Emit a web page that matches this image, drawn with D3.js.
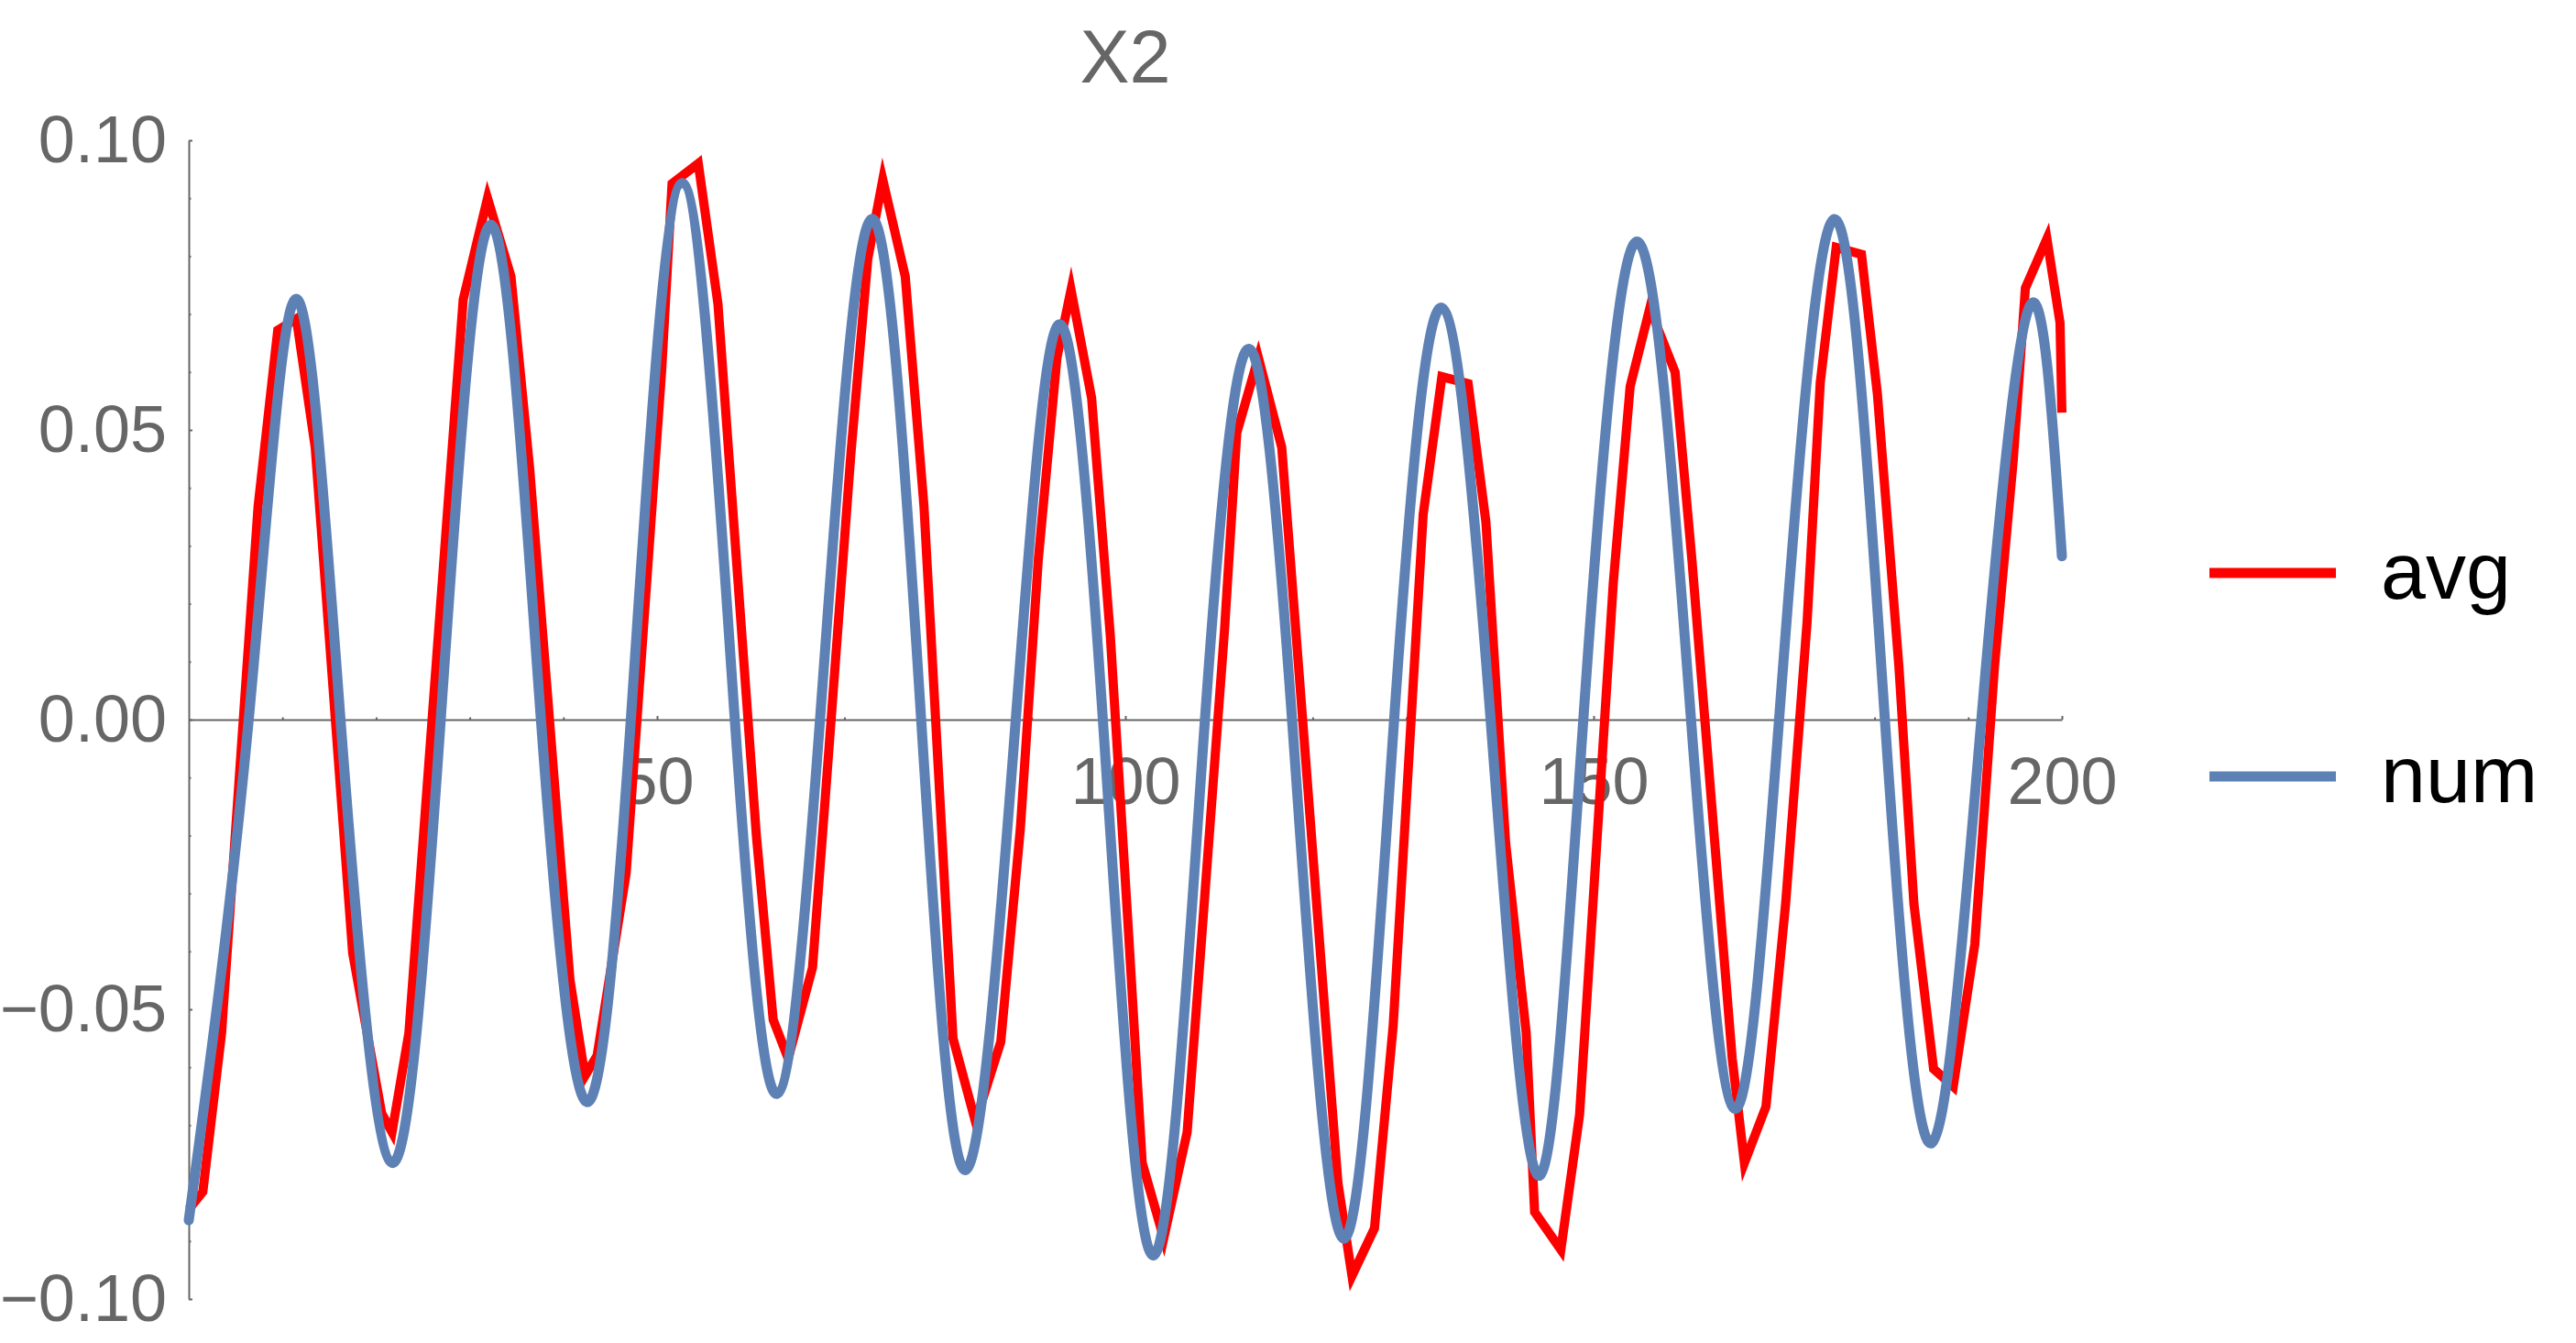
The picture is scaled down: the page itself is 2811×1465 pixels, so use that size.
<!DOCTYPE html>
<head>
  <meta charset="utf-8">
  <script src="https://d3js.org/d3.v7.min.js"></script>
  <style>
    body { margin:0;position:fixed;top:0;right:0;bottom:0;left:0;background:#fff; }
    text { font-family: "Liberation Sans", Arial, sans-serif; }
  </style>
</head>

<body>
  <script>
    // avg : sampled points (red polyline)
    var avgX = [0, 1.5, 3.5, 7.4, 9.5, 11.5, 13.5, 17.5, 20.6, 21.7, 23.5, 29.3, 31.9, 34.4, 36.4, 40.7, 42.3, 43.6, 46.7, 50.5,
                51.6, 54.4, 56.5, 60.6, 62.4, 64.0, 66.6, 68.4, 70.7, 72.5, 74.1, 76.5, 78.5, 81.6, 84.0, 86.7, 88.8, 90.7, 92.7, 94.2,
                96.4, 98.4, 100.4, 101.8, 104.1, 106.6, 108.3, 110.6, 111.9, 114.2, 116.7, 118.5, 122.7, 124.2, 126.6, 128.6, 131.8, 133.8, 136.6, 138.5,
                140.6, 142.8, 143.7, 146.5, 148.5, 152.1, 153.9, 156.0, 158.7, 160.5, 164.8, 166.1, 168.4, 170.5, 172.8, 174.2, 175.9, 178.6, 180.3, 182.6,
                184.2, 186.3, 188.4, 190.7, 192.8, 194.8, 196.1, 198.4, 199.8, 200];
    var avgY = [-0.0845, -0.0815, -0.0541, 0.0368, 0.0672, 0.0692, 0.0470, -0.0403, -0.0680, -0.0712, -0.0541, 0.0725, 0.0900, 0.0765, 0.0433, -0.0449, -0.0615, -0.0580, -0.0265, 0.0605,
                0.0925, 0.0960, 0.0718, -0.0199, -0.0518, -0.0585, -0.0428, -0.0040, 0.0460, 0.0795, 0.0932, 0.0765, 0.0368, -0.0550, -0.0694, -0.0556, -0.0186, 0.0275, 0.0625, 0.0742,
                0.0555, 0.0144, -0.0383, -0.0765, -0.0895, -0.0712, -0.0344, 0.0157, 0.0495, 0.0625, 0.0470, 0.0091, -0.0800, -0.0960, -0.0878, -0.0528, 0.0354, 0.0592, 0.0580, 0.0341,
                -0.0212, -0.0540, -0.0850, -0.0915, -0.0682, 0.0236, 0.0575, 0.0710, 0.0600, 0.0275, -0.0585, -0.0765, -0.0668, -0.0318, 0.0170, 0.0582, 0.0815, 0.0803, 0.0562, 0.0091,
                -0.0318, -0.0603, -0.0633, -0.0388, 0.0091, 0.0447, 0.0745, 0.0830, 0.0685, 0.0530];

    // num : smooth curve, read at extrema and zero crossings
    var numX = [0, 6.4, 11.4, 16.2, 21.7, 26.9, 32.3, 37.6, 42.5, 47.2, 52.7, 58.3, 62.8, 67.4, 72.9, 78.2, 83.0, 88.3, 92.9,
                97.6, 103.0, 108.5, 113.2, 117.8, 123.3, 128.7, 133.8, 139.0, 144.1, 148.9, 154.7, 160.4, 165.1, 169.8, 175.7, 181.1, 186.1, 191.4, 196.6, 200];
    var numY = [-0.0864, 0, 0.0726, 0, -0.0765, 0, 0.0854, 0, -0.0660, 0, 0.0926, 0, -0.0646, 0, 0.0864, 0, -0.0777, 0, 0.0682,
                0, -0.0925, 0, 0.0640, 0, -0.0896, 0, 0.0711, 0, -0.0787, 0, 0.0825, 0, -0.0672, 0, 0.0864, 0, -0.0731, 0, 0.0715, 0.0282];

    var xMajor = [50, 100, 150, 200];
    var xMinor = [10, 20, 30, 40, 60, 70, 80, 90, 110, 120, 130, 140, 160, 170, 180, 190];
    var yMajor = [-0.10, -0.05, 0, 0.05, 0.10];
    var yMinor = [-0.09, -0.08, -0.07, -0.06, -0.04, -0.03, -0.02, -0.01, 0.01, 0.02, 0.03, 0.04, 0.06, 0.07, 0.08, 0.09];
    var seriesNames = ["avg", "num"];
    var seriesColors = ["#ff0000", "#5e81b5"];
    var title = "X2";

    var width = 2811,
        height = 1465;

    var svg = d3.select("body")
      .append("svg")
      .attr("width", width)
      .attr("height", height);

    var x = d3.scaleLinear().domain([0, 200]).range([206, 2250]);
    var y = d3.scaleLinear().domain([-0.1, 0.1]).range([1417, 153]);

    var gray = "#666666";

    // y axis at x = 0
    svg.append("g")
      .attr("transform", "translate(" + x(0) + ",0)")
      .call(d3.axisLeft(y).tickValues(yMajor).tickSize(-4).tickSizeOuter(0).tickPadding(24)
        .tickFormat(d3.format(".2f")));
    svg.append("g")
      .attr("transform", "translate(" + x(0) + ",0)")
      .call(d3.axisLeft(y).tickValues(yMinor).tickSize(-2.5).tickSizeOuter(0).tickFormat(""))
      .select(".domain").remove();

    // x axis at y = 0
    svg.append("g")
      .attr("transform", "translate(0," + y(0) + ")")
      .call(d3.axisBottom(x).tickValues(xMajor).tickSize(-4).tickSizeOuter(0).tickPadding(41));
    svg.append("g")
      .attr("transform", "translate(0," + y(0) + ")")
      .call(d3.axisBottom(x).tickValues(xMinor).tickSize(-2.5).tickSizeOuter(0).tickFormat(""))
      .select(".domain").remove();

    svg.selectAll(".domain").attr("stroke", gray).attr("stroke-width", 2);
    svg.selectAll(".tick line").attr("stroke", gray).attr("stroke-width", 2);
    svg.selectAll(".tick text")
      .attr("fill", gray)
      .style("font-size", "72px")
      .style("font-family", "'Liberation Sans', Arial, sans-serif");

    var avg = avgX.map(function(d, i) { return [d, avgY[i]]; });
    var num = numX.map(function(d, i) { return [d, numY[i]]; });

    var straight = d3.line()
      .x(function(d) { return x(d[0]); })
      .y(function(d) { return y(d[1]); });
    var smooth = d3.line()
      .curve(d3.curveNatural)
      .x(function(d) { return x(d[0]); })
      .y(function(d) { return y(d[1]); });

    svg.append("path")
      .attr("d", straight(avg))
      .attr("fill", "none")
      .attr("stroke", seriesColors[0])
      .attr("stroke-width", 10)
      .attr("stroke-linejoin", "miter")
      .attr("stroke-miterlimit", 10);

    svg.append("path")
      .attr("d", smooth(num))
      .attr("fill", "none")
      .attr("stroke", seriesColors[1])
      .attr("stroke-width", 11)
      .attr("stroke-linejoin", "round")
      .attr("stroke-linecap", "round");

    // title
    svg.append("text")
      .attr("x", (x(0) + x(200)) / 2)
      .attr("y", 90)
      .attr("text-anchor", "middle")
      .attr("fill", gray)
      .style("font-size", "81px")
      .text(title);

    // legend
    var legend = svg.selectAll(".legend")
      .data(seriesNames)
      .enter()
      .append("g")
      .attr("class", "legend")
      .attr("transform", function(d, i) { return "translate(2411," + (625 + i * 222) + ")"; });

    legend.append("line")
      .attr("x1", 0)
      .attr("x2", 138)
      .attr("stroke", function(d, i) { return seriesColors[i]; })
      .attr("stroke-width", 11);

    legend.append("text")
      .attr("x", 187)
      .attr("y", 28)
      .attr("fill", "#000")
      .style("font-size", "88px")
      .text(function(d) { return d; });
  </script>
</body>
